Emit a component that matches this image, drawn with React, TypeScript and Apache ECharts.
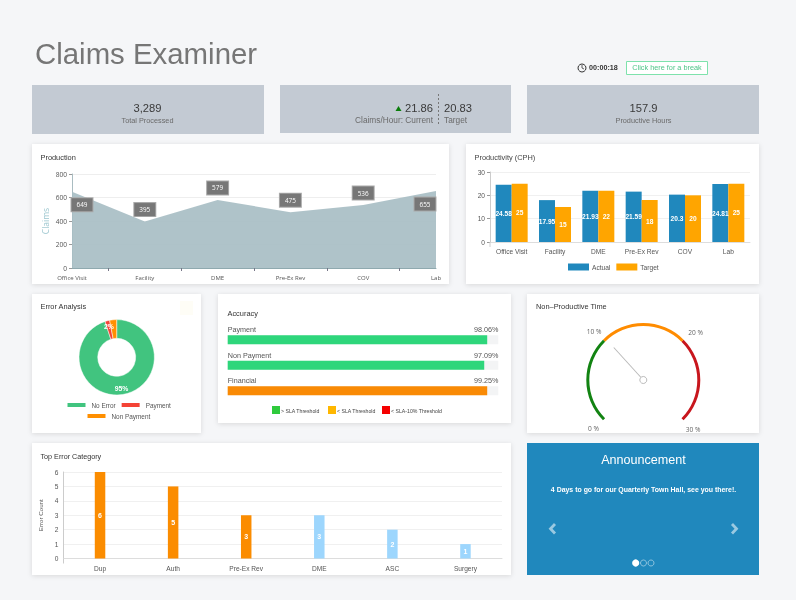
import React, { useEffect, useRef } from "react";
import * as echarts from "echarts";

const FONT = "'Liberation Sans', Arial, sans-serif";
const FONT2 = "'Open Sans', sans-serif";

const productionCategories = ["Office Visit", "Facility", "DME", "Pre-Ex Rev", "COV", "Lab"];
const productionValues = [649, 395, 579, 475, 536, 655];
const productivityCategories = ["Office Visit", "Facility", "DME", "Pre-Ex Rev", "COV", "Lab"];
const productivityActual = [24.58, 17.95, 21.93, 21.59, 20.3, 24.81];
const productivityTarget = [25, 15, 22, 18, 20, 25];
const errorNames = ["No Error", "Payment", "Non Payment"];
const errorValues = [95, 2, 3];
const errorColors = ["#41c47f", "#f44336", "#ff8f00"];
const accuracyNames = ["Payment", "Non Payment", "Financial"];
const accuracyLabels = ["98.06%", "97.09%", "99.25%"];
const accuracyBars = [95.9, 94.8, 95.9];
const accuracyColors = ["#2ed67b", "#2ed67b", "#f98a05"];
const gaugeValue = 10.3;
const gaugeTickLabels = ["0 %", "10 %", "20 %", "30 %"];
const topErrorCategories = ["Dup", "Auth", "Pre-Ex Rev", "DME", "ASC", "Surgery"];
const topErrorValues = [6, 5, 3, 3, 2, 1];
const topErrorColors = ["#fb8c00", "#fb8c00", "#fb8c00", "#9dd6fd", "#9dd6fd", "#9dd6fd"];

function txt(text: string, x: number, y: number, size: number, fill: string, align = "left", weight: any = "normal", family = FONT) {
  return {
    type: "text", x, y, z: 10, silent: true,
    style: { text, fontSize: size, fontFamily: family, fontWeight: weight, fill, align, verticalAlign: "middle" },
  };
}
function card(x: number, y: number, w: number, h: number) {
  return {
    type: "rect", z: -10, silent: true, shape: { x, y, width: w, height: h },
    style: { fill: "#ffffff", shadowBlur: 5, shadowColor: "rgba(0,0,0,0.12)", shadowOffsetY: 1 },
  };
}
function flat(x: number, y: number, w: number, h: number, fill: string) {
  return { type: "rect", z: -10, silent: true, shape: { x, y, width: w, height: h }, style: { fill } };
}

const graphics: any[] = [
  txt("Claims Examiner", 35, 53, 29.4, "#767676"),
  { type: "circle", z: 10, silent: true, shape: { cx: 582, cy: 68, r: 4 }, style: { fill: "none", stroke: "#333", lineWidth: 1 } },
  { type: "polyline", z: 10, silent: true, shape: { points: [[582, 65], [582, 68], [584, 69]] }, style: { fill: "none", stroke: "#333", lineWidth: 0.8 } },
  txt("00:00:18", 589, 67.5, 7.2, "#333", "left", "bold"),
  { type: "rect", z: 10, silent: true, shape: { x: 626.5, y: 61.5, width: 81, height: 13 }, style: { fill: "#fff", stroke: "#7ee2ac", lineWidth: 1 } },
  txt("Click here for a break", 667, 67.5, 7.3, "#4fc488", "center"),

  flat(32, 85, 232, 49, "#c3cad3"),
  flat(280, 85, 231, 48, "#c3cad3"),
  flat(527, 85, 232, 49, "#c3cad3"),
  txt("3,289", 147.5, 108, 11.2, "#3a3a3a", "center"),
  txt("Total Processed", 147.5, 120, 7.3, "#6a6a6a", "center"),
  { type: "polygon", z: 10, silent: true, shape: { points: [[398.5, 106], [395.5, 111], [401.5, 111]] }, style: { fill: "#0a7d0a" } },
  txt("21.86", 433, 108, 11.2, "#3a3a3a", "right"),
  txt("Claims/Hour: Current", 433, 120, 8.3, "#6a6a6a", "right"),
  { type: "line", z: 10, silent: true, shape: { x1: 438.5, y1: 94, x2: 438.5, y2: 125 }, style: { stroke: "#777", lineWidth: 1, lineDash: [2, 2] } },
  txt("20.83", 444, 108, 11.2, "#3a3a3a"),
  txt("Target", 444, 120, 8.3, "#6a6a6a"),
  txt("157.9", 643.5, 108, 11.2, "#3a3a3a", "center"),
  txt("Productive Hours", 643.5, 120, 7.3, "#6a6a6a", "center"),

  card(32, 144, 417, 140),
  card(466, 144, 293, 140),
  card(32, 294, 169, 139),
  card(218, 294, 293, 129),
  card(527, 294, 232, 139),
  card(32, 443, 479, 132),
  flat(527, 443, 232, 132, "#2088bd"),

  txt("Production", 40.5, 157, 7.4, "#333"),
  txt("Productivity (CPH)", 474.5, 157, 7.4, "#444"),
  txt("Error Analysis", 40.5, 306.5, 7.4, "#333"),
  txt("Accuracy", 227.5, 313.5, 7.4, "#333"),
  txt("Non\u2013Productive Time", 536, 306.5, 7.4, "#333"),
  txt("Top Error Category", 40.5, 456, 7.2, "#333"),
  { type: "rect", z: -5, silent: true, shape: { x: 180, y: 301, width: 13, height: 14 }, style: { fill: "#fefdf6" } },

  // gauge tick labels, placed outside the arc as in the reference
  txt(gaugeTickLabels[0], 593.5, 428, 6.6, "#666", "center", "normal", FONT2),
  txt(gaugeTickLabels[1], 594, 331.3, 6.6, "#666", "center", "normal", FONT2),
  txt(gaugeTickLabels[2], 695.7, 332.7, 6.6, "#666", "center", "normal", FONT2),
  txt(gaugeTickLabels[3], 693, 429.7, 6.6, "#666", "center", "normal", FONT2),

  // y axis stubs below zero
  { type: "line", z: 10, silent: true, shape: { x1: 490, y1: 242, x2: 490, y2: 247 }, style: { stroke: "#ccc", lineWidth: 1 } },
  { type: "line", z: 10, silent: true, shape: { x1: 63.5, y1: 558.5, x2: 63.5, y2: 563.5 }, style: { stroke: "#ccc", lineWidth: 1 } },

  // accuracy legend
  flat(272, 406, 8, 8, "#2fca3c"), txt("> SLA Threshold", 281, 410.5, 5.2, "#444"),
  flat(328, 406, 8, 8, "#ffb700"), txt("< SLA Threshold", 337, 410.5, 5.2, "#444"),
  flat(382, 406, 8, 8, "#f50000"), txt("< SLA-10% Threshold", 391, 410.5, 5.2, "#444"),

  // announcement
  txt("Announcement", 643.5, 460, 12.6, "#fff", "center"),
  txt("4 Days to go for our Quarterly Town Hall, see you there!.", 643.5, 489, 6.95, "#fff", "center", "bold"),
  { type: "polyline", z: 10, silent: true, shape: { points: [[555, 524], [550.5, 528.7], [555, 533.5]] }, style: { fill: "none", stroke: "rgba(255,255,255,0.55)", lineWidth: 2.8 } },
  { type: "polyline", z: 10, silent: true, shape: { points: [[732, 524], [736.5, 528.7], [732, 533.5]] }, style: { fill: "none", stroke: "rgba(255,255,255,0.55)", lineWidth: 2.8 } },
  { type: "circle", z: 10, silent: true, shape: { cx: 635.7, cy: 563, r: 3.6 }, style: { fill: "#fff" } },
  { type: "circle", z: 10, silent: true, shape: { cx: 643.5, cy: 563, r: 3 }, style: { fill: "none", stroke: "rgba(255,255,255,0.6)", lineWidth: 0.8 } },
  { type: "circle", z: 10, silent: true, shape: { cx: 651, cy: 563, r: 3 }, style: { fill: "none", stroke: "rgba(255,255,255,0.6)", lineWidth: 0.8 } },
];

const GRAY = { color: "#555", fontSize: 6.6, fontFamily: FONT };

function buildOption(): any {
  return {
    animation: false,
    backgroundColor: "#f5f6f8",
    graphic: { elements: graphics },
    grid: [
      { left: 72, top: 174, width: 364, height: 94 },
      { left: 490, top: 172, width: 260, height: 70 },
      { left: 63.5, top: 472, width: 438.5, height: 86.5 },
      { left: 227.7, top: 327, width: 270.6, height: 76.5 },
    ],
    xAxis: [
      {
        type: "category", gridIndex: 0, data: productionCategories, boundaryGap: false,
        axisLine: { lineStyle: { color: "#8fa9af" } }, axisTick: { show: false },
        axisLabel: { ...GRAY, fontFamily: FONT2, fontSize: 6, margin: 7, interval: 0, hideOverlap: false, showMinLabel: true, showMaxLabel: true },
      },
      {
        type: "category", gridIndex: 0, position: "bottom", data: ["", "", "", "", ""], boundaryGap: true, show: true,
        axisLine: { show: false }, axisLabel: { show: false },
        axisTick: { show: true, alignWithLabel: true, length: 3, lineStyle: { color: "#778" } },
      },
      {
        type: "category", gridIndex: 1, data: productivityCategories,
        axisLine: { lineStyle: { color: "#dddddd" } }, axisTick: { show: false },
        axisLabel: { ...GRAY, margin: 6, interval: 0 },
      },
      {
        type: "category", gridIndex: 2, data: topErrorCategories,
        axisLine: { lineStyle: { color: "#dddddd" } }, axisTick: { show: false },
        axisLabel: { ...GRAY, margin: 6, interval: 0 },
      },
      { type: "value", gridIndex: 3, min: 0, max: 100, show: false },
    ],
    yAxis: [
      {
        type: "value", gridIndex: 0, min: 0, max: 800, interval: 200,
        name: "Claims", nameLocation: "middle", nameGap: 22,
        nameTextStyle: { color: "#9cc6cf", fontSize: 8.5, fontFamily: FONT2 },
        axisLine: { show: true, lineStyle: { color: "#a9bcc1" } },
        axisTick: { show: true, length: 3, lineStyle: { color: "#999" } },
        axisLabel: { ...GRAY, fontFamily: FONT2, margin: 5 },
        splitLine: { lineStyle: { color: "#eeeeee" } },
      },
      {
        type: "value", gridIndex: 1, min: 0, max: 30, interval: 10,
        axisLine: { show: true, lineStyle: { color: "#cccccc" } },
        axisTick: { show: true, length: 3, lineStyle: { color: "#999" } },
        axisLabel: { ...GRAY, margin: 5 },
        splitLine: { lineStyle: { color: "#f0f0f0" } },
      },
      {
        type: "value", gridIndex: 2, min: 0, max: 6, interval: 1,
        name: "Error Count", nameLocation: "middle", nameGap: 12,
        nameTextStyle: { color: "#555", fontSize: 6.2, fontFamily: FONT },
        axisLine: { show: true, lineStyle: { color: "#cccccc" } },
        axisTick: { show: false },
        axisLabel: { ...GRAY, margin: 5 },
        splitLine: { lineStyle: { color: "#f0f0f0" } },
      },
      { type: "category", gridIndex: 3, inverse: true, data: accuracyNames, show: false },
    ],
    legend: [
      {
        data: ["Actual", "Target"], left: 568, top: 263.5, itemWidth: 21, itemHeight: 7, itemGap: 6, padding: 0,
        textStyle: { color: "#555", fontSize: 6.6, fontFamily: FONT, padding: [0, 0, 0, -2] }, selectedMode: false, icon: "rect",
      },
      {
        data: ["No Error", "Payment"], left: 65.5, top: 401, itemWidth: 20, itemHeight: 6, itemGap: 4, padding: 0,
        textStyle: { color: "#555", fontSize: 6.4, fontFamily: FONT }, selectedMode: false, icon: "rect",
      },
      {
        data: ["Non Payment"], left: 85.5, top: 412, itemWidth: 20, itemHeight: 6, padding: 0,
        textStyle: { color: "#555", fontSize: 6.4, fontFamily: FONT }, selectedMode: false, icon: "rect",
      },
    ],
    series: [
      {
        type: "line", name: "Production", xAxisIndex: 0, yAxisIndex: 0, symbol: "circle", symbolSize: 1, silent: true,
        showSymbol: true, showAllSymbol: true,
        itemStyle: { color: "rgba(0,0,0,0)" },
        lineStyle: { width: 0 },
        areaStyle: { color: "#a8bec4", opacity: 0.92 },
        data: productionValues.map((v, i) => ({
          value: v,
          label: i === 0 ? { offset: [10, 25] } : i === productionValues.length - 1 ? { offset: [-11, 25] } : undefined,
        })),
        label: {
          show: true, position: "top", distance: 5, color: "#fff", fontSize: 6.4, fontFamily: FONT2,
          backgroundColor: "#777", borderColor: "#aaa", borderWidth: 1, padding: [3.5, 5],
        },
      },
      {
        type: "bar", name: "Actual", xAxisIndex: 2, yAxisIndex: 1, data: productivityActual, barWidth: 16, barGap: 0,
        itemStyle: { color: "#2088bd" }, silent: true,
        label: { show: true, position: "inside", color: "#fff", fontSize: 6.6, fontWeight: "bold", fontFamily: FONT },
      },
      {
        type: "bar", name: "Target", xAxisIndex: 2, yAxisIndex: 1, data: productivityTarget, barWidth: 16, barGap: 0,
        itemStyle: { color: "#ffa500" }, silent: true,
        label: { show: true, position: "inside", color: "#fff", fontSize: 6.6, fontWeight: "bold", fontFamily: FONT },
      },
      {
        type: "bar", name: "Top Error", xAxisIndex: 3, yAxisIndex: 2, barWidth: 10.5, silent: true,
        data: topErrorValues.map((v, i) => ({ value: v, itemStyle: { color: topErrorColors[i] } })),
        label: { show: true, position: "inside", color: "#fff", fontSize: 7, fontWeight: "bold", fontFamily: FONT },
      },
      {
        type: "bar", name: "Accuracy track", xAxisIndex: 4, yAxisIndex: 3, barWidth: 9, barGap: "-100%", silent: true,
        data: accuracyNames.map(() => 100),
        itemStyle: { color: "#f3f4f5" },
        label: {
          show: true, position: ["100%", -9], align: "right", color: "#555", fontSize: 7.2, fontFamily: FONT,
          formatter: (p: any) => accuracyLabels[p.dataIndex],
        },
      },
      {
        type: "bar", name: "Accuracy", xAxisIndex: 4, yAxisIndex: 3, barWidth: 9, barGap: "-100%", silent: true,
        data: accuracyBars.map((v, i) => ({ value: v, itemStyle: { color: accuracyColors[i] } })),
        label: {
          show: true, position: [0, -9], color: "#555", fontSize: 7.2, fontFamily: FONT,
          formatter: (p: any) => accuracyNames[p.dataIndex],
        },
      },
      {
        type: "pie", name: "Error Analysis", center: [116.7, 357.3], radius: [19, 37.7], startAngle: 90, clockwise: true,
        silent: true, avoidLabelOverlap: false, minAngle: 0,
        itemStyle: { borderColor: "#fff", borderWidth: 0.5 },
        data: errorNames.map((n, i) => ({ name: n, value: errorValues[i], itemStyle: { color: errorColors[i] } })),
        label: { show: true, position: "inside", formatter: "{d}%", color: "#fff", fontSize: 6.8, fontWeight: "bold", fontFamily: FONT },
        labelLine: { show: false },
      },
      {
        type: "gauge", name: "Non-Productive Time", center: [643.3, 380], radius: 57, startAngle: 225, endAngle: -45,
        min: 0, max: 30, splitNumber: 3, silent: true,
        axisLine: { lineStyle: { width: 3, color: [[1 / 3, "#128312"], [2 / 3, "#ff8c00"], [1, "#c8161d"]] } },
        axisTick: { show: false }, splitLine: { show: false }, axisLabel: { show: false },
        pointer: { show: true, icon: "rect", length: "77%", width: 1, offsetCenter: [0, 0], itemStyle: { color: "#b9b9b9" } },
        anchor: { show: true, showAbove: true, size: 7, itemStyle: { color: "#fff", borderColor: "#bbb", borderWidth: 1 } },
        title: { show: false }, detail: { show: false },
        data: [{ value: gaugeValue }],
      },
    ],
  };
}

export default function App() {
  const ref = useRef<HTMLDivElement>(null);
  useEffect(() => {
    if (!ref.current) return;
    const chart = echarts.init(ref.current, undefined, { renderer: "svg" });
    chart.setOption(buildOption());
    return () => chart.dispose();
  }, []);
  return <div ref={ref} style={{ position: "absolute", left: 0, top: 0, width: 796, height: 600, filter: "blur(0.3px)" }} />;
}
